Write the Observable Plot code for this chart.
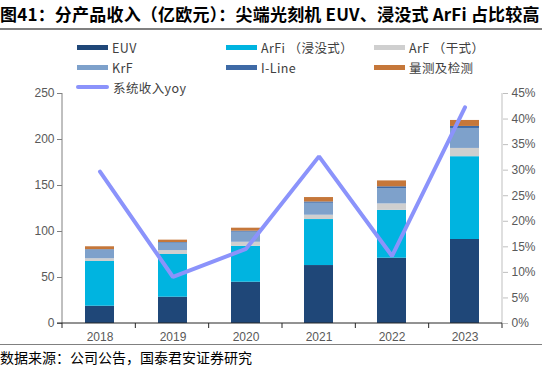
<!DOCTYPE html>
<html><head><meta charset="utf-8">
<script src="https://cdn.jsdelivr.net/npm/d3@7"></script>
<script src="https://cdn.jsdelivr.net/npm/@observablehq/plot@0.6"></script>
<style>
body{margin:0;width:542px;height:373px;overflow:hidden;background:#fff;font-family:"Noto Sans CJK SC",sans-serif;position:relative}
#title{height:28px;line-height:28px;font-size:17px;font-weight:700;color:#000;border-bottom:2px solid #808080;white-space:nowrap;letter-spacing:0.2px}
#chart{height:314px}
#cap{border-top:1.5px solid #808080;font-size:14px;line-height:24px;color:#000;white-space:nowrap}
.leg{position:absolute;height:16px;font-size:12.5px;color:#404040;display:flex;align-items:center;white-space:nowrap;letter-spacing:0.4px}
.sw{width:31px;height:5px;margin-right:4px}
.swl{width:33px;height:4px;border-radius:2px;margin-right:4px}
</style></head><body>
<div id="title">图41：分产品收入（亿欧元）：尖端光刻机 EUV、浸没式 ArFi 占比较高</div>
<div id="chart"></div>
<div id="cap">数据来源：公司公告，国泰君安证券研究</div>
<div id="legend"></div>
<script>
const years = ["2018","2019","2020","2021","2022","2023"];
const products = ["EUV","ArFi","ArF","KrF","I-Line","量测及检测"];
const legendLabels = ["EUV","ArFi （浸没式）","ArF （干式）","KrF","I-Line","量测及检测"];
const euv   = [18.8, 28.6, 44.9, 63.0, 71.0, 91.3];
const arfi  = [48.6, 46.4, 39.0, 50.0, 52.0, 90.0];
const arf   = [3.0, 4.3, 4.4, 4.7, 7.0, 9.0];
const krf   = [9.4, 8.0, 11.0, 13.0, 16.7, 21.7];
const iline = [0.5, 0.7, 1.1, 1.4, 1.9, 2.2];
const metro = [3.1, 2.6, 3.2, 4.8, 6.4, 6.5];
const yoy   = [29.7, 9.1, 14.6, 32.7, 13.2, 42.3];
const lineLabel = "系统收入yoy";
const leftTicks = [0, 50, 100, 150, 200, 250];
const rightTicks = [0, 5, 10, 15, 20, 25, 30, 35, 40, 45];

const colors = ["#1f4778", "#00b4e0", "#cfcfcf", "#7ea1cb", "#3e6aa6", "#c5773a"];
const lineColor = "#8b93fb";
const yMax = 250, pMax = 45;

const series = [euv, arfi, arf, krf, iline, metro];
const table = [];
years.forEach((y, i) => products.forEach((p, j) => table.push({year: y, product: p, value: series[j][i]})));
const yoyTable = years.map((y, i) => ({year: y, yoy: yoy[i]}));

function frameLines(index, scales, values, dims) {
  const {width, height, marginLeft, marginRight, marginTop, marginBottom} = dims;
  const x0 = marginLeft, x1 = width - marginRight, yb = height - marginBottom, yt = marginTop;
  const g = d3.create("svg:g");
  g.append("line").attr("x1", x0).attr("x2", x0).attr("y1", yt).attr("y2", yb).attr("stroke", "#808080");
  g.append("line").attr("x1", x1).attr("x2", x1).attr("y1", yt).attr("y2", yb).attr("stroke", "#bfbfbf");
  g.append("line").attr("x1", x0 - 5).attr("x2", x1).attr("y1", yb).attr("y2", yb).attr("stroke", "#262626");
  const step = (x1 - x0) / years.length;
  for (let k = 0; k <= years.length; k++) {
    const x = x0 + k * step;
    g.append("line").attr("x1", x).attr("x2", x).attr("y1", yb).attr("y2", yb + 5).attr("stroke", "#262626");
  }
  return g.node();
}

const chart = Plot.plot({
  width: 542, height: 314,
  marginTop: 63, marginBottom: 21, marginLeft: 62, marginRight: 40,
  x: {domain: years, paddingInner: 0.6, paddingOuter: 0.3, axis: null},
  y: {domain: [0, yMax], axis: null},
  color: {domain: products, range: colors},
  style: {fontFamily: "'Liberation Sans', Arial, sans-serif", fontSize: "12px", color: "#595959", background: "white"},
  marks: [
    Plot.barY(table, {x: "year", y: "value", fill: "product", order: products}),
    Plot.line(yoyTable, {x: "year", y: d => d.yoy * yMax / pMax, stroke: lineColor, strokeWidth: 4, strokeLinejoin: "miter"}),
    Plot.axisX({tickSize: 0, tickPadding: 9, label: null}),
    Plot.axisY({ticks: leftTicks, tickSize: 5, tickPadding: 3, label: null, stroke: "#808080", tickFormat: d => String(d)}),
    Plot.axisY({anchor: "right", ticks: rightTicks.map(v => v * yMax / pMax), tickSize: 5, tickPadding: 4, label: null, stroke: "#bfbfbf", tickFormat: d => Math.round(d * pMax / yMax) + "%"}),
    frameLines
  ]
});
document.getElementById("chart").appendChild(chart);

const leg = document.getElementById("legend");
const cols = [77, 226, 374];
const rows = [47, 67];
products.forEach((p, j) => {
  const d = document.createElement("div");
  d.className = "leg";
  d.style.left = cols[j % 3] + "px";
  d.style.top = (rows[Math.floor(j / 3)] - 8) + "px";
  d.innerHTML = `<span class="sw" style="background:${colors[j]}"></span><span>${legendLabels[j]}</span>`;
  leg.appendChild(d);
});
const dl = document.createElement("div");
dl.className = "leg";
dl.style.left = "76px";
dl.style.top = (87 - 8) + "px";
dl.innerHTML = `<span class="swl" style="background:${lineColor}"></span><span>${lineLabel}</span>`;
leg.appendChild(dl);
</script>
</body></html>
